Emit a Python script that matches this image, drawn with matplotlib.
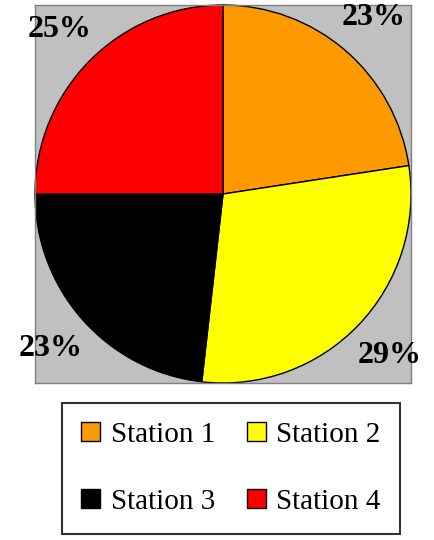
#!/usr/bin/env python3
"""Pie chart of station shares with a two-column legend underneath."""

import matplotlib
matplotlib.use("Agg")
import matplotlib.pyplot as plt

STATIONS = ["Station 1", "Station 2", "Station 3", "Station 4"]
SHARES = [22.6, 29.2, 23.2, 25.0]
COLORS = ["#ff9900", "#ffff00", "#000000", "#ff0000"]

plt.rcParams["font.family"] = ["Liberation Serif", "DejaVu Serif"]

W, H = 434, 540
fig = plt.figure(figsize=(W / 100, H / 100), dpi=100)

# Gray plot area holding the pie
ax = fig.add_axes([35 / W, 1 - 383 / H, 376 / W, 378 / H])
wedges, texts, autotexts = ax.pie(
    SHARES, colors=COLORS, startangle=90, counterclock=False,
    autopct="%.0f%%", pctdistance=1.23, radius=1.0, frame=True,
    wedgeprops={"edgecolor": "black", "linewidth": 1.0})
for t in autotexts:
    t.set_fontsize(23)
    t.set_fontweight("bold")
    t.set_clip_on(False)
ax.set_facecolor("#c0c0c0")
ax.set_xlim(-1, 1)
ax.set_ylim(-1, 1)
ax.set_aspect("auto")
ax.set_xticks([])
ax.set_yticks([])
for sp in ax.spines.values():
    sp.set_color("#808080")
    sp.set_linewidth(1.0)

# Legend box below the plot, filled row by row
order = [0, 2, 1, 3]
leg = fig.legend([wedges[i] for i in order], [STATIONS[i] for i in order],
                 ncol=2, loc="upper center",
                 bbox_to_anchor=(231 / W, 1 - 403 / H), fontsize=21,
                 frameon=True, fancybox=False, edgecolor="black",
                 handlelength=0.65, handleheight=0.65, handletextpad=0.35,
                 columnspacing=1.1, labelspacing=1.4, borderpad=0.65,
                 borderaxespad=0)
leg.get_frame().set_linewidth(1.5)

fig.savefig("out.png", dpi=100)
